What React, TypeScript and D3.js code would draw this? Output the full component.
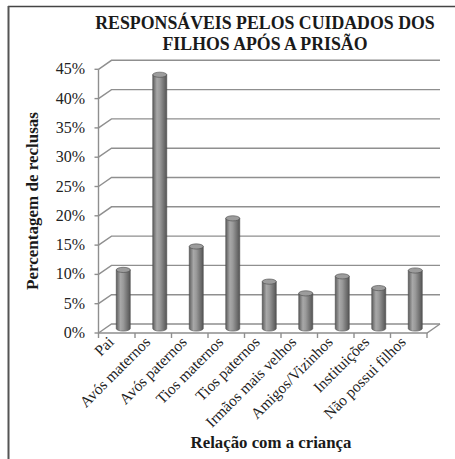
import React from "react";
import * as d3 from "d3";

const categories = [
  "Pai",
  "Avós maternos",
  "Avós paternos",
  "Tios maternos",
  "Tios paternos",
  "Irmãos mais velhos",
  "Amigos/Vizinhos",
  "Instituições",
  "Não possui filhos",
];
const values = [10, 43.3, 14, 18.8, 8, 6, 8.9, 6.9, 9.9];
const yTicks = [0, 5, 10, 15, 20, 25, 30, 35, 40, 45];
const titleLines = ["RESPONSÁVEIS PELOS CUIDADOS DOS", "FILHOS APÓS A PRISÃO"];
const yLabel = "Percentagem de reclusas";
const xLabel = "Relação com a criança";

const W = 455;
const H = 459;
const FONT = "Liberation Serif, Times New Roman, DejaVu Serif, serif";

export default function App() {
  const x0 = 98.5;
  const x1 = 427;
  const dx = 13;
  const dy = -9;
  const x = d3.scaleBand<string>().domain(categories).range([x0, x1]);
  const y = d3.scaleLinear().domain([0, 45]).range([333, 69.3]);
  const bw = 14;
  const ry = 2.6;
  const grid = "#8f8f8f";

  return (
    <svg
      width={W}
      height={H}
      style={{ position: "absolute", left: 0, top: 0, background: "#fff" }}
    >
      <defs>
        <linearGradient id="cyl" x1="0" x2="1" y1="0" y2="0">
          <stop offset="0" stopColor="#5e5e5e" />
          <stop offset="0.3" stopColor="#a8a8a8" />
          <stop offset="0.5" stopColor="#9a9a9a" />
          <stop offset="1" stopColor="#555555" />
        </linearGradient>
      </defs>
      {/* frame */}
      <line x1={8} y1={6.5} x2={W} y2={6.5} stroke="#444" strokeWidth={1.5} />
      <line x1={8.5} y1={6} x2={8.5} y2={H} stroke="#555" strokeWidth={2} />

      <g style={{ fontFamily: FONT }}>
        {/* title */}
        {titleLines.map((t, i) => (
          <text
            key={t}
            x={265}
            y={29 + i * 21}
            textAnchor="middle"
            fontSize={17.8}
            fontWeight="bold"
            fill="#1a1a1a"
          >
            {t}
          </text>
        ))}

        {/* gridlines with back wall */}
        {yTicks.map((t) => {
          const yy = y(t);
          return (
            <g key={t}>
              <polyline
                points={`${x0},${yy} ${x0 + dx},${yy + dy} ${x1 + dx},${yy + dy}`}
                fill="none"
                stroke={grid}
                strokeWidth={1.4}
              />
              <line x1={x0 - 4} x2={x0} y1={yy} y2={yy} stroke={grid} strokeWidth={1.4} />
              <text x={85} y={yy + 5} textAnchor="end" fontSize={16} fill="#222">
                {t}%
              </text>
            </g>
          );
        })}
        {/* floor */}
        <polyline
          points={`${x0},${y(0)} ${x1},${y(0)} ${x1 + dx},${y(0) + dy}`}
          fill="none"
          stroke={grid}
          strokeWidth={1.4}
        />
        {/* axis */}
        <line x1={x0} x2={x0} y1={y(45)} y2={y(0)} stroke={grid} strokeWidth={1.4} />
        {categories.map((c, i) => (
          <line
            key={"tk" + c}
            x1={x0 + x.bandwidth() * (i + 1)}
            x2={x0 + x.bandwidth() * (i + 1)}
            y1={y(0)}
            y2={y(0) + 5}
            stroke={grid}
            strokeWidth={1.4}
          />
        ))}
        <line x1={x0} x2={x0} y1={y(0)} y2={y(0) + 5} stroke={grid} strokeWidth={1.4} />

        {/* bars */}
        {categories.map((c, i) => {
          const cx = (x(c) as number) + x.bandwidth() / 2 + dx / 2;
          const yb = y(0) + dy / 2;
          const yt = y(values[i]) + dy / 2;
          return (
            <g key={"b" + c}>
              <path
                d={`M${cx - bw / 2},${yt} L${cx - bw / 2},${yb} A${bw / 2},${ry} 0 0 0 ${cx + bw / 2},${yb} L${cx + bw / 2},${yt} Z`}
                fill="url(#cyl)"
                stroke="#4a4a4a"
                strokeWidth={0.6}
              />
              <ellipse cx={cx} cy={yt} rx={bw / 2} ry={ry} fill="#9c9c9c" stroke="#4a4a4a" strokeWidth={0.6} />
            </g>
          );
        })}

        {/* category labels */}
        {categories.map((c) => {
          const cx = (x(c) as number) + x.bandwidth() / 2;
          const ly = y(0) + 10;
          return (
            <text
              key={"l" + c}
              x={cx - 2}
              y={ly}
              textAnchor="end"
              fontSize={15.5}
              fill="#222"
              transform={`rotate(-45 ${cx - 2} ${ly})`}
            >
              {c}
            </text>
          );
        })}

        {/* axis titles */}
        <text
          x={0}
          y={0}
          transform={`translate(38 201) rotate(-90)`}
          textAnchor="middle"
          fontSize={17}
          fontWeight="bold"
          fill="#1a1a1a"
        >
          {yLabel}
        </text>
        <text x={271} y={448} textAnchor="middle" fontSize={16.8} fontWeight="bold" fill="#1a1a1a">
          {xLabel}
        </text>
      </g>
    </svg>
  );
}
